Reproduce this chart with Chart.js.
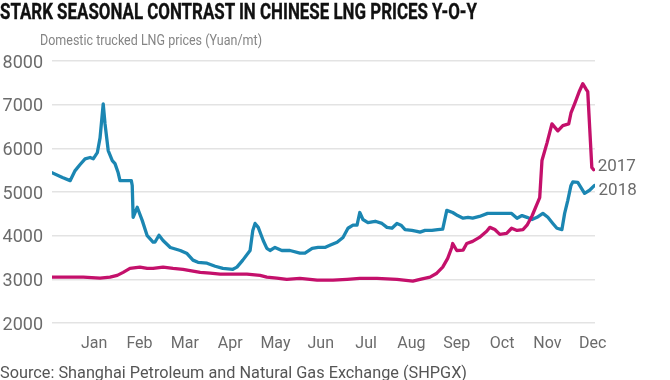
<!DOCTYPE html>
<html>
<head>
<meta charset="utf-8">
<script src="https://cdn.jsdelivr.net/npm/chart.js@4/dist/chart.umd.min.js"></script>
<style>
  html, body { margin: 0; padding: 0; background: #fff; }
  #wrap { position: relative; width: 670px; height: 380px; overflow: hidden; background: #fff; }
  #c { position: absolute; left: 0; top: 0; }
  .txt { position: absolute; white-space: nowrap; transform-origin: left center; line-height: 1; }
  #title { left: 0; top: 1px; font-family: "Liberation Sans Narrow", "Roboto", sans-serif; font-weight: bold; font-size: 22px; color: #111; -webkit-text-stroke: 0.35px #111; }
  #subtitle { left: 40px; top: 33px; font-family: "Roboto", "Noto Sans", sans-serif; font-size: 14px; color: #858585; }
  #source { left: 0; top: 365px; font-family: "Roboto", "Noto Sans", sans-serif; font-size: 16px; color: #555; }
</style>
</head>
<body>
<div id="wrap">
  <canvas id="c" width="670" height="380"></canvas>
  <div class="txt" id="title" data-w="477">STARK SEASONAL CONTRAST IN CHINESE LNG PRICES Y-O-Y</div>
  <div class="txt" id="subtitle" data-w="222">Domestic trucked LNG prices (Yuan/mt)</div>
  <div class="txt" id="source" data-w="467">Source: Shanghai Petroleum and Natural Gas Exchange (SHPGX)</div>
</div>
<script>
// ---- Data (x in month units: 1 = Jan tick, 12 = Dec tick) ----
const monthLabels = ['Jan','Feb','Mar','Apr','May','Jun','Jul','Aug','Sep','Oct','Nov','Dec'];
const yTickValues = [2000, 3000, 4000, 5000, 6000, 7000, 8000];
const seriesNames = ['2017', '2018'];

const x2018 = [0.07,0.30,0.47,0.58,0.69,0.80,0.91,0.98,1.07,1.13,1.20,1.24,1.31,1.40,1.46,1.53,1.57,1.82,1.84,1.86,1.95,2.06,2.17,2.30,2.34,2.43,2.52,2.68,2.90,3.05,3.18,3.29,3.49,3.67,3.84,4.06,4.15,4.28,4.44,4.50,4.55,4.62,4.73,4.81,4.88,4.99,5.14,5.32,5.54,5.65,5.81,5.94,6.09,6.20,6.36,6.49,6.60,6.71,6.80,6.86,6.93,7.04,7.20,7.35,7.46,7.57,7.68,7.77,7.86,8.01,8.12,8.19,8.30,8.45,8.58,8.69,8.78,8.91,9.02,9.14,9.25,9.35,9.50,9.68,9.88,10.10,10.21,10.33,10.44,10.55,10.66,10.77,10.90,11.01,11.12,11.21,11.32,11.38,11.45,11.52,11.56,11.67,11.82,11.93,12.04];
const v2018 = [5440,5330,5260,5490,5630,5760,5790,5760,5900,6240,7020,6560,5950,5720,5650,5440,5260,5260,5150,4420,4650,4350,4000,3850,3850,4010,3890,3730,3660,3590,3440,3390,3370,3300,3250,3230,3280,3440,3660,4120,4280,4190,3890,3710,3660,3730,3660,3660,3600,3600,3710,3730,3730,3780,3850,3960,4170,4240,4240,4530,4370,4300,4330,4280,4190,4170,4280,4240,4140,4120,4100,4080,4120,4120,4140,4150,4580,4530,4460,4400,4420,4400,4440,4510,4510,4510,4510,4400,4460,4420,4370,4420,4510,4420,4280,4170,4140,4510,4810,5150,5230,5220,4970,5040,5150];

const x2017 = [0.07,0.76,1.13,1.35,1.51,1.64,1.79,2.01,2.17,2.30,2.52,2.74,2.96,3.18,3.34,3.56,3.78,4.06,4.37,4.66,4.81,5.03,5.25,5.54,5.76,5.92,6.27,6.58,6.86,7.24,7.68,8.03,8.19,8.41,8.56,8.69,8.80,8.89,8.91,9.00,9.14,9.22,9.35,9.50,9.66,9.73,9.84,9.95,10.10,10.21,10.33,10.46,10.55,10.66,10.77,10.83,10.88,10.99,11.10,11.23,11.34,11.47,11.52,11.60,11.71,11.78,11.85,11.89,11.98,12.02];
const v2017 = [3050,3050,3030,3050,3090,3160,3250,3280,3250,3250,3280,3250,3230,3190,3160,3140,3120,3120,3120,3090,3050,3030,3000,3020,3000,2980,2980,3000,3020,3020,3000,2960,3000,3050,3140,3280,3480,3730,3820,3660,3670,3820,3870,3960,4100,4190,4140,4030,4050,4170,4120,4140,4240,4450,4720,4870,5720,6120,6560,6400,6520,6560,6810,7020,7320,7480,7360,7300,5560,5510];

const colors = { '2017': '#c4106b', '2018': '#1b86b2' };
const labelOffsets = { '2017': -3, '2018': 5 };

const toPoints = (xs, vs) => xs.map((x, i) => ({ x: x, y: vs[i] }));

const endLabels = {
  id: 'endLabels',
  afterDatasetsDraw(chart) {
    const ctx = chart.ctx;
    ctx.save();
    ctx.font = '17px Roboto, "Noto Sans", sans-serif';
    ctx.fillStyle = '#6b6b6b';
    ctx.textAlign = 'left';
    ctx.textBaseline = 'middle';
    chart.data.datasets.forEach((ds, i) => {
      const meta = chart.getDatasetMeta(i);
      const last = meta.data[meta.data.length - 1];
      ctx.fillText(ds.label, last.x + 4, last.y + labelOffsets[ds.label]);
    });
    ctx.restore();
  }
};

new Chart(document.getElementById('c'), {
  type: 'line',
  data: {
    datasets: [
      { label: seriesNames[0], data: toPoints(x2017, v2017), borderColor: colors['2017'] },
      { label: seriesNames[1], data: toPoints(x2018, v2018), borderColor: colors['2018'] }
    ]
  },
  options: {
    responsive: false,
    animation: false,
    devicePixelRatio: 1,
    layout: { padding: { top: 61, left: 0, right: 75, bottom: 27 } },
    elements: {
      line: { borderWidth: 3.3, tension: 0, borderJoinStyle: 'round', borderCapStyle: 'round', fill: false },
      point: { radius: 0 }
    },
    plugins: { legend: { display: false }, tooltip: { enabled: false }, title: { display: false } },
    scales: {
      x: {
        type: 'linear',
        min: 0.07,
        max: 12.05,
        afterBuildTicks: (scale) => { scale.ticks = monthLabels.map((m, i) => ({ value: i + 1 })); },
        afterFit: (scale) => { scale.height = 30; },
        ticks: {
          autoSkip: false,
          maxRotation: 0,
          padding: 11,
          color: '#6b6b6b',
          font: { family: 'Roboto, "Noto Sans", sans-serif', size: 16 },
          callback: (v) => monthLabels[Math.round(v) - 1] || ''
        },
        grid: { display: false, drawTicks: false },
        border: { display: false }
      },
      y: {
        min: 2000,
        max: 8000,
        afterBuildTicks: (scale) => { scale.ticks = yTickValues.map(v => ({ value: v })); },
        afterFit: (scale) => { scale.width = 52; },
        ticks: {
          padding: 9,
          labelOffset: 2,
          color: '#6b6b6b',
          font: { family: 'Roboto, "Noto Sans", sans-serif', size: 18 },
          callback: (v) => String(v)
        },
        grid: { color: '#e3e3e3', lineWidth: 1.5, drawTicks: false },
        border: { display: false }
      }
    }
  },
  plugins: [endLabels]
});

// fit overlay texts horizontally to the reference widths
document.querySelectorAll('.txt').forEach(el => {
  const target = parseFloat(el.dataset.w);
  const w = el.getBoundingClientRect().width;
  if (w > 0) el.style.transform = 'scaleX(' + (target / w) + ')';
});
</script>
</body>
</html>
